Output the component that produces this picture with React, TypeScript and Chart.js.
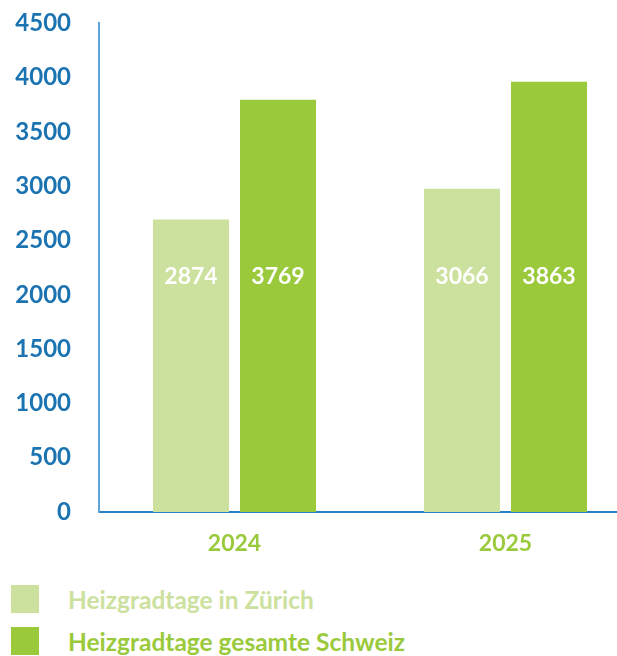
import React, { useEffect, useRef } from "react";
import { Chart, registerables } from "chart.js";

Chart.register(...registerables);

const categories = ["2024", "2025"];
const seriesNames = ["Heizgradtage in Zürich", "Heizgradtage gesamte Schweiz"];
const zurichValues = [2694, 2978];
const schweizValues = [3797, 3962];
const zurichLabels = ["2874", "3066"];
const schweizLabels = ["3769", "3863"];
const yTicks = [0, 500, 1000, 1500, 2000, 2500, 3000, 3500, 4000, 4500];

const LIGHT = "#cce19d";
const GREEN = "#9aca3c";
const BLUE = "#1b74b1";
const FONT = "Lato, 'Open Sans', sans-serif";
const LABEL_LEVEL = 2170;

const valueLabelPlugin = {
  id: "valueLabels",
  afterDatasetsDraw(chart: any) {
    const ctx = chart.ctx;
    const yScale = chart.scales.y;
    const labelSets = [zurichLabels, schweizLabels];
    ctx.save();
    ctx.fillStyle = "#ffffff";
    ctx.font = `bold 23px ${FONT}`;
    ctx.textAlign = "center";
    ctx.textBaseline = "middle";
    chart.data.datasets.forEach((_ds: any, di: number) => {
      const meta = chart.getDatasetMeta(di);
      meta.data.forEach((el: any, i: number) => {
        ctx.fillText(labelSets[di][i], el.x, yScale.getPixelForValue(LABEL_LEVEL));
      });
    });
    ctx.restore();
  },
};

export default function App() {
  const ref = useRef<HTMLCanvasElement | null>(null);

  useEffect(() => {
    if (!ref.current) return;
    const chart = new Chart(ref.current, {
      type: "bar",
      data: {
        labels: categories,
        datasets: [
          { label: seriesNames[0], data: zurichValues, backgroundColor: LIGHT },
          { label: seriesNames[1], data: schweizValues, backgroundColor: GREEN },
        ],
      },
      options: {
        responsive: false,
        animation: false,
        layout: { padding: { top: 3, right: 0, bottom: 0, left: 0 } },
        datasets: {
          bar: { categoryPercentage: 0.642, barPercentage: 0.874 },
        },
        plugins: {
          legend: { display: false },
          tooltip: { enabled: false },
        },
        scales: {
          x: {
            grid: { display: false, drawTicks: false },
            border: { display: true, color: "#2581c4", width: 2 },
            ticks: {
              color: GREEN,
              font: { family: FONT, size: 23, weight: "bold" },
              padding: 18,
            },
            afterFit(scale: any) {
              scale.height = 58;
            },
          },
          y: {
            min: 0,
            max: 4500,
            afterBuildTicks(scale: any) {
              scale.ticks = yTicks.map((v) => ({ value: v }));
            },
            grid: { display: false, drawTicks: false },
            border: { display: true, color: "#5ea3d6", width: 2 },
            ticks: {
              color: BLUE,
              font: { family: FONT, size: 24, weight: "bold" },
              padding: 28,
              callback: (v: any) => String(v),
            },
            afterFit(scale: any) {
              scale.width = 99;
            },
          },
        },
      },
      plugins: [valueLabelPlugin],
    });
    return () => chart.destroy();
  }, []);

  const legendColors = [LIGHT, GREEN];

  return (
    <div
      style={{
        position: "fixed",
        left: 0,
        top: 0,
        width: 617,
        height: 656,
        overflow: "hidden",
        background: "#ffffff",
      }}
    >
      <canvas
        ref={ref}
        width={641}
        height={589}
        style={{ display: "block", marginTop: -19 }}
      />
      {seriesNames.map((name, i) => (
        <div
          key={name}
          style={{
            position: "absolute",
            left: 11,
            top: 585 + i * 42,
            height: 28,
            display: "flex",
            alignItems: "center",
          }}
        >
          <div style={{ width: 28, height: 28, background: legendColors[i] }} />
          <span
            style={{
              marginLeft: 29,
              fontFamily: FONT,
              fontWeight: 700,
              fontSize: 24.5,
              color: legendColors[i],
              whiteSpace: "nowrap",
            }}
          >
            {name}
          </span>
        </div>
      ))}
    </div>
  );
}
